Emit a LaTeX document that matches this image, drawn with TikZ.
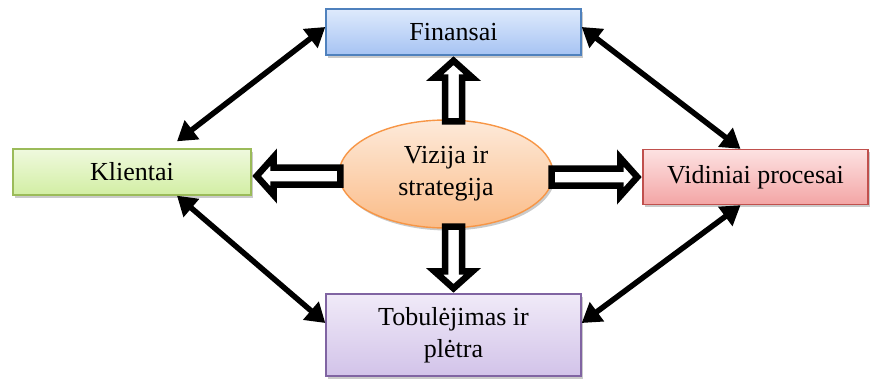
\documentclass[tikz,border=0pt]{standalone}
\usepackage{fontspec}
\setmainfont{Liberation Serif}
\usetikzlibrary{arrows.meta,calc,shadows,shapes.geometric}
\tikzset{
  boxbase/.style={draw, line width=1.4pt, inner sep=0pt, align=center,
    font=\fontsize{26}{32}\selectfont,
    drop shadow={shadow xshift=2pt, shadow yshift=-2.5pt, opacity=0.35, fill=black!60}},
  dbl/.style={line width=5.5pt, {Triangle[length=19pt,width=23pt]}-{Triangle[length=19pt,width=23pt]}},
  hollow/.style={draw=black, fill=white, line width=6.5pt, line join=miter}
}
\definecolor{finB}{HTML}{4F81BD}\definecolor{finT}{HTML}{DEEAFC}\definecolor{finD}{HTML}{A6C3F3}
\definecolor{klB}{HTML}{9BBB59}\definecolor{klT}{HTML}{EFF9DE}\definecolor{klD}{HTML}{D2EEA3}
\definecolor{vpB}{HTML}{C0504D}\definecolor{vpT}{HTML}{FDE2E2}\definecolor{vpD}{HTML}{F3A5A5}
\definecolor{tbB}{HTML}{8064A2}\definecolor{tbT}{HTML}{F0EAF8}\definecolor{tbD}{HTML}{D2C3E9}
\definecolor{elB}{HTML}{F79646}\definecolor{elT}{HTML}{FDEADA}\definecolor{elD}{HTML}{FBBC88}
\newcommand\hollowarrow[2]{%
  \draw[hollow] let \p1=(#1), \p2=(#2),
    \n1={atan2(\y2-\y1,\x2-\x1)}, \n2={veclen(\x2-\x1,\y2-\y1)} in
    {[shift={(\p1)}, rotate=\n1]
      (0pt,8.5pt) -- ({\n2*1pt-22pt},8.5pt) -- ({\n2*1pt-22pt},19pt) -- ({\n2*1pt-5pt},0pt)
      -- ({\n2*1pt-22pt},-19pt) -- ({\n2*1pt-22pt},-8.5pt) -- (0pt,-8.5pt) -- cycle};
}
\begin{document}
\begin{tikzpicture}[x=1pt,y=-1pt]
\useasboundingbox (0,0) rectangle (872,381);
\node[boxbase, draw=finB, top color=finT, bottom color=finD, minimum width=255pt, minimum height=46pt] (fin) at (453.5,32) {Finansai};
\node[boxbase, draw=klB, top color=klT, bottom color=klD, minimum width=238pt, minimum height=46pt] (kl) at (132,172) {Klientai};
\node[boxbase, draw=vpB, top color=vpT, bottom color=vpD, minimum width=225pt, minimum height=55pt] (vp) at (755.5,177) {Vidiniai procesai};
\node[boxbase, draw=tbB, top color=tbT, bottom color=tbD, minimum width=255pt, minimum height=82pt] (tb) at (453.5,335) {Tobulėjimas ir\\plėtra};
\node[boxbase, ellipse, draw=elB, top color=elT, bottom color=elD, minimum width=214pt, minimum height=108pt] (e) at (446,174) {Vizija ir\\strategija};
\coordinate (eup) at ($(fin.south |- e.north)+(0,2)$);
\coordinate (edn) at ($(tb.north |- e.south)+(0,-2)$);
\coordinate (elf) at ($(e.west)+(2,2)$);
\coordinate (ert) at ($(e.east)+(-2,3)$);
\hollowarrow{eup}{fin.south}
\hollowarrow{edn}{tb.north}
\hollowarrow{elf}{kl.east |- elf}
\hollowarrow{ert}{vp.west |- ert}
\draw[dbl] ($(fin.west)+(0,-5)$) -- ($(kl.north)+(45,-7)$);
\draw[dbl] ($(fin.east)+(0,-5)$) -- ($(vp.north)+(-15,0)$);
\draw[dbl] ($(kl.south)+(45,0)$) -- ($(tb.west)+(0,-12)$);
\draw[dbl] ($(vp.south)+(-15,0)$) -- ($(tb.east)+(0,-12)$);
\end{tikzpicture}
\end{document}
